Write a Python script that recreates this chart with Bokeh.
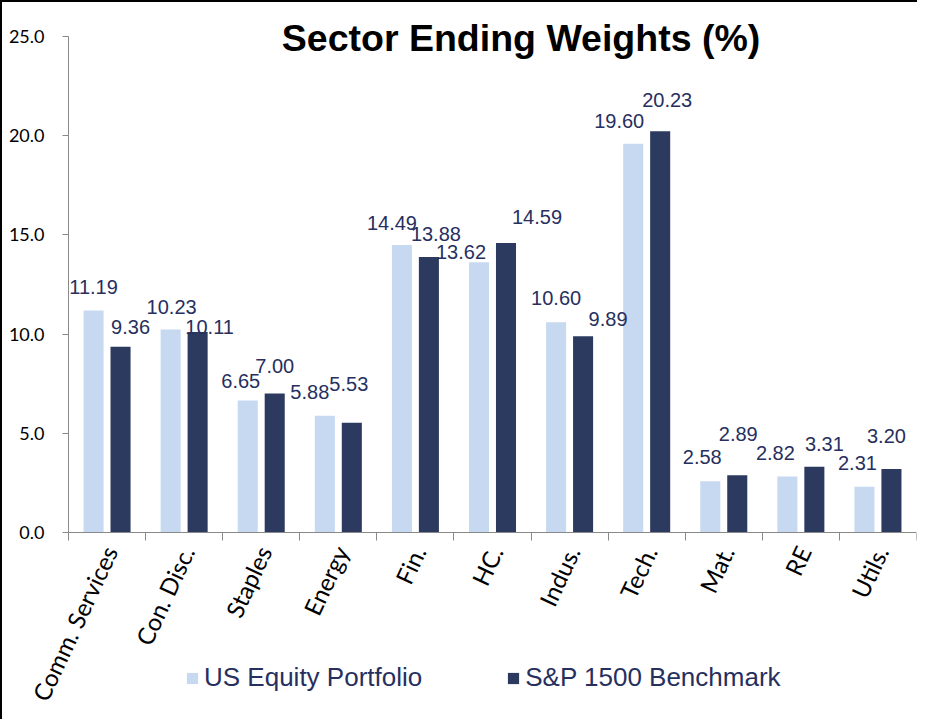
from bokeh.plotting import figure
from bokeh.models import (Range1d, FixedTicker, ColumnDataSource, Legend, LegendItem,
                          Label)
from bokeh.transform import dodge
from bokeh.core.properties import value
from bokeh.embed import file_html
from bokeh.resources import INLINE
import math

# ---------------- data ----------------
categories = ["Comm. Services", "Con. Disc.", "Staples", "Energy", "Fin.", "HC.",
              "Indus.", "Tech.", "Mat.", "RE", "Utils."]
us_equity = [11.19, 10.23, 6.65, 5.88, 14.49, 13.62, 10.60, 19.60, 2.58, 2.82, 2.31]
sp1500 = [9.36, 10.11, 7.00, 5.53, 13.88, 14.59, 9.89, 20.23, 2.89, 3.31, 3.20]
y_ticks = [0, 5, 10, 15, 20, 25]
y_tick_labels = ["0.0", "5.0", "10.0", "15.0", "20.0", "25.0"]
series_names = ["US Equity Portfolio", "S&P 1500 Benchmark"]
title_text = "Sector Ending Weights (%)"

# label nudges (screen px: right, up from bar top) mimicking the original placement
us_dx = [0, 1, -7, -15, -10, -18, 0, -14, -8, -12, -7]
us_dy = [23, 23, 20, 24, 22, 10, 24, 23, 24, 24, 24]
sp_dx = [10, 12, 0, -3, 7, 31, 25, 7, 1, 10, -5]
sp_dy = [20, 5, 28, 39, 23, 26, 17, 31, 41, 23, 33]

LIGHT = "#C6D9F1"
DARK = "#2B3A5E"
NAVY = "#262F5E"
AXIS = "#898989"

n = len(categories)
src = ColumnDataSource(dict(
    x=[i + 0.5 for i in range(n)],
    cat=categories,
    us=us_equity, sp=sp1500,
    us_lbl=[f"{v:.2f}" for v in us_equity],
    sp_lbl=[f"{v:.2f}" for v in sp1500],
    us_dx=us_dx, us_dy=[-d for d in us_dy],
    sp_dx=sp_dx, sp_dy=[-d for d in sp_dy],
))
ysrc = ColumnDataSource(dict(y=y_ticks, lbl=y_tick_labels))

# layout (page px): value 25 at y=36, value 0 at y=532, category 0 edge at x=68,
# category 11 edge at x=916; the frame spans x 8..916, y 10..709
px_per_unit_y = (532 - 36) / 25.0
y_top = (532 - 10) / px_per_unit_y
y_bot = -(709 - 532) / px_per_unit_y
px_per_cat = (916 - 68) / n
x_start = -(68 - 8) / px_per_cat

p = figure(width=917, height=719, output_backend="svg", toolbar_location=None,
           x_range=Range1d(x_start, n), y_range=Range1d(y_bot, y_top),
           min_border_left=6, min_border_right=3, min_border_top=8,
           min_border_bottom=12)
p.outline_line_color = None
p.xgrid.grid_line_color = None
p.ygrid.grid_line_color = None
p.background_fill_color = "white"
p.border_fill_color = "white"

r_us = p.vbar(x=dodge("x", -0.175), top="us", width=0.26, source=src,
              fill_color=LIGHT, line_color=None)
r_sp = p.vbar(x=dodge("x", 0.175), top="sp", width=0.26, source=src,
              fill_color=DARK, line_color=None)

for col, lbl, dx, dy, off in [("us", "us_lbl", "us_dx", "us_dy", -0.175),
                              ("sp", "sp_lbl", "sp_dx", "sp_dy", 0.175)]:
    p.text(x=dodge("x", off), y=col, text=lbl, x_offset=dx, y_offset=dy, source=src,
           text_align="center", text_baseline="middle",
           text_font=value("Liberation Sans"), text_font_size="20px",
           text_color=NAVY)

# y axis drawn at category edge 0, line only from 0 to 25
ya = p.yaxis[0]
ya.fixed_location = 0
ya.ticker = FixedTicker(ticks=y_ticks)
ya.bounds = (0, 25)
ya.major_label_overrides = {t: "" for t in y_ticks}
ya.axis_line_color = AXIS
ya.major_tick_line_color = AXIS
ya.major_tick_out = 6
ya.major_tick_in = 0
ya.minor_tick_line_color = None
ya.major_label_standoff = 0

# y tick labels
p.text(x=0, y="y", text="lbl", source=ysrc, x_offset=-24, text_align="right",
       text_baseline="middle", text_font=value("Lato"), text_font_size="18px",
       text_color="black")

# x axis drawn at value 0, tick marks at category boundaries
xa = p.xaxis[0]
xa.fixed_location = 0
xa.ticker = FixedTicker(ticks=[], minor_ticks=list(range(n + 1)))
xa.bounds = (0, n)
xa.axis_line_color = AXIS
xa.major_tick_line_color = None
xa.minor_tick_line_color = AXIS
xa.minor_tick_out = 8
xa.minor_tick_in = 0

# category labels, rotated, hanging below the axis
p.text(x="x", y=0, text="cat", source=src, angle=math.radians(65),
       x_offset=3, y_offset=15, text_align="right", text_baseline="middle",
       text_font=value("Lato"), text_font_size="24px", text_color="black")

# title
p.add_layout(Label(x=5.87, y=24.92, text=title_text, text_align="center",
                   text_baseline="middle", text_font="Liberation Sans",
                   text_font_style="bold", text_font_size="37.5px", text_color="black"))

legend = Legend(items=[LegendItem(label=series_names[0], renderers=[r_us]),
                       LegendItem(label=series_names[1], renderers=[r_sp])],
                orientation="horizontal", location=(177, 16),
                glyph_width=14, glyph_height=14, label_standoff=5, spacing=84,
                padding=0, margin=0, border_line_color=None,
                background_fill_alpha=0,
                label_text_font="Liberation Sans", label_text_font_size="26px",
                label_text_color=NAVY)
p.add_layout(legend)

p.styles = {"border-top": "2px solid black", "border-left": "2px solid black"}

open("out.html", "w").write(file_html(p, INLINE))
